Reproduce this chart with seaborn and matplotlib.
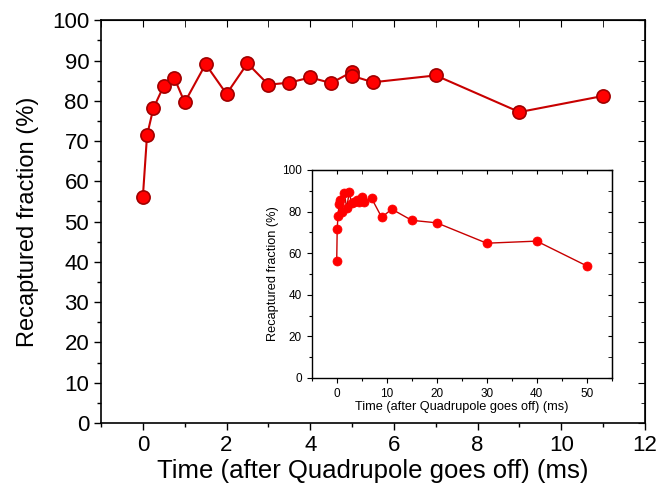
import numpy as np
import pandas as pd
import matplotlib
matplotlib.use("Agg")
import matplotlib.pyplot as plt
import seaborn as sns
from matplotlib.ticker import MultipleLocator

# Main data (short times)
time_ms = [0, 0.1, 0.25, 0.5, 0.75, 1.0, 1.5, 2.0, 2.5, 3.0, 3.5, 4.0, 4.5, 5.0, 5.0, 5.5, 7.0, 9.0, 11.0]
recaptured = [56.1, 71.4, 78.1, 83.7, 85.7, 79.6, 89.1, 81.7, 89.3, 84.0, 84.5, 85.8, 84.4, 87.2, 86.2, 84.6, 86.3, 77.2, 81.2]

# Extra long-time points shown only in the inset
time_long = [15, 20, 30, 40, 50]
recaptured_long = [75.8, 74.6, 64.8, 65.8, 53.9]

main_yticks = [0, 10, 20, 30, 40, 50, 60, 70, 80, 90, 100]
main_xticks = [0, 2, 4, 6, 8, 10, 12]
inset_yticks = [0, 20, 40, 60, 80, 100]
inset_xticks = [0, 10, 20, 30, 40, 50]

sns.set_style("ticks")
plt.rcParams['font.family'] = ['Liberation Sans', 'DejaVu Sans']
plt.rcParams.update({"text.color": "black", "axes.labelcolor": "black",
                     "xtick.color": "black", "ytick.color": "black",
                     "axes.edgecolor": "black"})

df_main = pd.DataFrame({"t": time_ms, "r": recaptured})
df_inset = pd.DataFrame({"t": time_ms + time_long, "r": recaptured + recaptured_long})

fig = plt.figure(figsize=(6.58, 4.90), dpi=100)
ax = fig.add_axes([0.1535, 0.1367, 0.8267, 0.822])

sns.lineplot(data=df_main, x="t", y="r", ax=ax, sort=False, estimator=None,
             color="#C80000", linewidth=1.5, marker="o", markersize=9.5,
             markerfacecolor="#FF0000", markeredgecolor="#A00000", markeredgewidth=1.2)

ax.set_xlim(-1, 12)
ax.set_ylim(0, 100)
ax.set_xticks(main_xticks)
ax.set_yticks(main_yticks)
ax.xaxis.set_minor_locator(MultipleLocator(1))
ax.yaxis.set_minor_locator(MultipleLocator(5))
ax.tick_params(which="both", direction="out", top=False, right=False, labelsize=16, width=1, color="black")
ax.tick_params(which="major", length=5)
ax.tick_params(which="minor", length=3)
ax.set_xlabel("Time (after Quadrupole goes off) (ms)", fontsize=18.5, labelpad=2)
ax.set_ylabel("Recaptured fraction (%)", fontsize=17, labelpad=9)
for s in ax.spines.values():
    s.set_color("black"); s.set_linewidth(1.2)
# mirrored inward ticks on top and right
axt = ax.secondary_xaxis("top")
axt.set_xticks(main_xticks); axt.xaxis.set_minor_locator(MultipleLocator(1))
axt.tick_params(which="both", direction="in", labeltop=False, length=5)
axt.set_xticklabels([])
axr = ax.secondary_yaxis("right")
axr.set_yticks(main_yticks); axr.yaxis.set_minor_locator(MultipleLocator(5))
axr.tick_params(which="major", direction="in", labelright=False, length=5)
axr.tick_params(which="minor", direction="in", length=3)
axr.set_yticklabels([])

# Inset
ins = fig.add_axes([0.4737, 0.2286, 0.456, 0.4245])
sns.lineplot(data=df_inset, x="t", y="r", ax=ins, sort=False, estimator=None,
             color="#C80000", linewidth=1.0, marker="o", markersize=6.5,
             markerfacecolor="#FF0000", markeredgecolor="#FF0000", markeredgewidth=0.5)
ins.set_xlim(-5, 55)
ins.set_ylim(0, 100)
ins.set_xticks(inset_xticks)
ins.set_yticks(inset_yticks)
ins.xaxis.set_minor_locator(MultipleLocator(5))
ins.yaxis.set_minor_locator(MultipleLocator(10))
ins.tick_params(which="both", direction="out", labelsize=8.5, width=0.8)
ins.tick_params(which="major", length=3.5)
ins.tick_params(which="minor", length=2)
ins.set_xlabel("Time (after Quadrupole goes off) (ms)", fontsize=9.2, labelpad=1)
ins.set_ylabel("Recaptured fraction (%)", fontsize=9.2, labelpad=2)
for s in ins.spines.values():
    s.set_color("black"); s.set_linewidth(1.0)
it = ins.secondary_xaxis("top")
it.set_xticks(inset_xticks); it.xaxis.set_minor_locator(MultipleLocator(5))
it.tick_params(which="both", direction="in", length=3); it.set_xticklabels([])
ir = ins.secondary_yaxis("right")
ir.set_yticks(inset_yticks); ir.yaxis.set_minor_locator(MultipleLocator(10))
ir.tick_params(which="both", direction="in", length=3); ir.set_yticklabels([])

fig.savefig("out.png", dpi=100)
